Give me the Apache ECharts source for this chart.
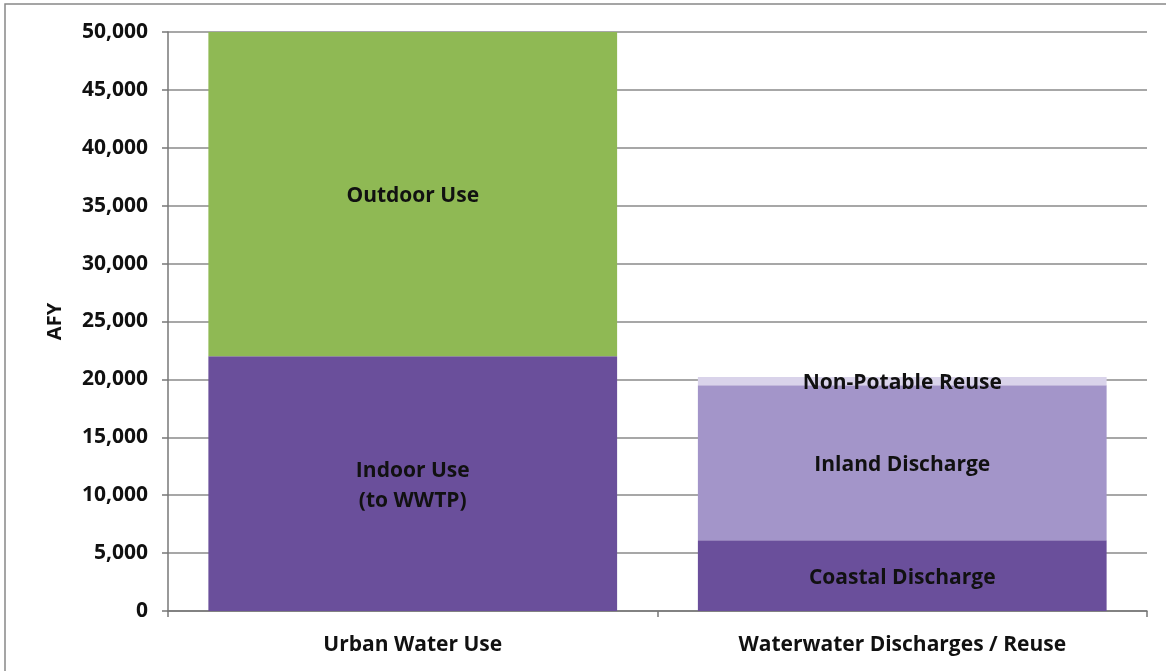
<!DOCTYPE html>
<html><head><meta charset="utf-8">
<script src="https://cdn.jsdelivr.net/npm/echarts@6/dist/echarts.min.js"></script>
<style>html,body{margin:0;padding:0;background:#fff}#c{width:1166px;height:671px}</style>
</head><body><div id="c"></div>
<script>
const categories = ['Urban Water Use', 'Waterwater Discharges / Reuse'];
const seriesNames = ['Indoor Use', 'Outdoor Use', 'Coastal Discharge', 'Inland Discharge', 'Non-Potable Reuse'];
const seriesLabels = ['Indoor Use\n(to WWTP)', 'Outdoor Use', 'Coastal Discharge', 'Inland Discharge', 'Non-Potable Reuse'];
const indoorUse = [22000, null];
const outdoorUse = [28000, null];
const coastalDischarge = [null, 6100];
const inlandDischarge = [null, 13400];
const nonPotableReuse = [null, 700];
const yTicks = [0, 5000, 10000, 15000, 20000, 25000, 30000, 35000, 40000, 45000, 50000];
const colors = ['#6a4f9b', '#8fb954', '#6a4f9b', '#a395c9', '#d9d3ea'];
const values = [indoorUse, outdoorUse, coastalDischarge, inlandDischarge, nonPotableReuse];

const FONT = '"Open Sans"';
const chart = echarts.init(document.getElementById('c'));
chart.setOption({
  animation: false,
  grid: {left: 168, right: 19, top: 32, bottom: 60},
  graphic: [{type: 'rect', shape: {x: 5, y: 4, width: 1170, height: 680}, style: {fill: 'none', stroke: '#888', lineWidth: 1.5}, silent: true}],
  xAxis: {
    type: 'category', data: categories,
    axisLine: {lineStyle: {color: '#777', width: 1.5}},
    axisTick: {show: true, length: 6, lineStyle: {color: '#777', width: 1.5}},
    axisLabel: {color: '#111', fontFamily: FONT, fontWeight: 'bold', fontSize: 21, margin: 24}
  },
  yAxis: {
    type: 'value', min: 0, max: 50000, interval: 5000,
    name: 'AFY', nameLocation: 'middle', nameGap: 103, nameRotate: 90,
    nameTextStyle: {color: '#111', fontFamily: FONT, fontWeight: 'bold', fontSize: 20},
    axisLine: {show: true, lineStyle: {color: '#777', width: 1.5}},
    axisTick: {show: true, length: 6, lineStyle: {color: '#777', width: 1.5}},
    splitLine: {lineStyle: {color: '#8a8a8a', width: 1.5}},
    axisLabel: {color: '#111', fontFamily: FONT, fontWeight: 'bold', fontSize: 21, margin: 20,
      formatter: v => yTicks.includes(v) ? v.toLocaleString('en-US') : ''}
  },
  series: seriesNames.map((n, i) => ({
    name: n, type: 'bar', stack: 'total', data: values[i], barWidth: '83.5%',
    itemStyle: {color: colors[i]},
    label: {show: true, position: 'inside', offset: [0, 2], formatter: seriesLabels[i], color: '#111',
      fontFamily: FONT, fontWeight: 'bold', fontSize: 21, lineHeight: 30}
  }))
});
</script></body></html>
